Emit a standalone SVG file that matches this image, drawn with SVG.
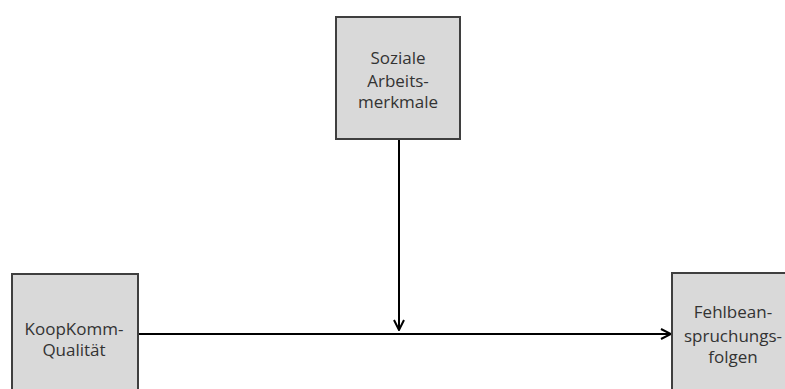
<svg xmlns="http://www.w3.org/2000/svg" width="785" height="389" viewBox="0 0 785 389">
  <style>
    .box { fill: #d9d9d9; stroke: #3f3f3f; stroke-width: 2; }
    .label { font-family: "Open Sans", "Liberation Sans", sans-serif; font-size: 17px; fill: #333; text-anchor: middle; }
    .link { stroke: #000; stroke-width: 2; fill: none; marker-end: url(#arrow); }
  </style>
  <defs>
    <marker id="arrow" viewBox="0 0 12 12" refX="11" refY="6" markerWidth="12" markerHeight="12" markerUnits="userSpaceOnUse" orient="auto">
      <path d="M1,1 L11,6 L1,11" fill="none" stroke="#000" stroke-width="2"/>
    </marker>
  </defs>
  <rect width="785" height="389" fill="#fff"/>

  <g id="connectors">
    <line class="link" x1="138" y1="334" x2="671" y2="334"/>
    <line class="link" x1="399" y1="139" x2="399" y2="330"/>
  </g>

  <g id="soziale">
    <rect class="box" x="336" y="17" width="124" height="122"/>
    <text class="label" x="398" y="64">Soziale</text>
    <text class="label" x="398" y="87">Arbeits-</text>
    <text class="label" x="398" y="108">merkmale</text>
  </g>

  <g id="koopkomm">
    <rect class="box" x="12" y="274" width="126" height="130"/>
    <text class="label" x="74" y="335">KoopKomm-</text>
    <text class="label" x="74" y="356">Qualität</text>
  </g>

  <g id="fehlbean">
    <rect class="box" x="672" y="273" width="126" height="130"/>
    <text class="label" x="733" y="318">Fehlbean-</text>
    <text class="label" x="733" y="342">spruchungs-</text>
    <text class="label" x="733" y="363">folgen</text>
  </g>
</svg>
